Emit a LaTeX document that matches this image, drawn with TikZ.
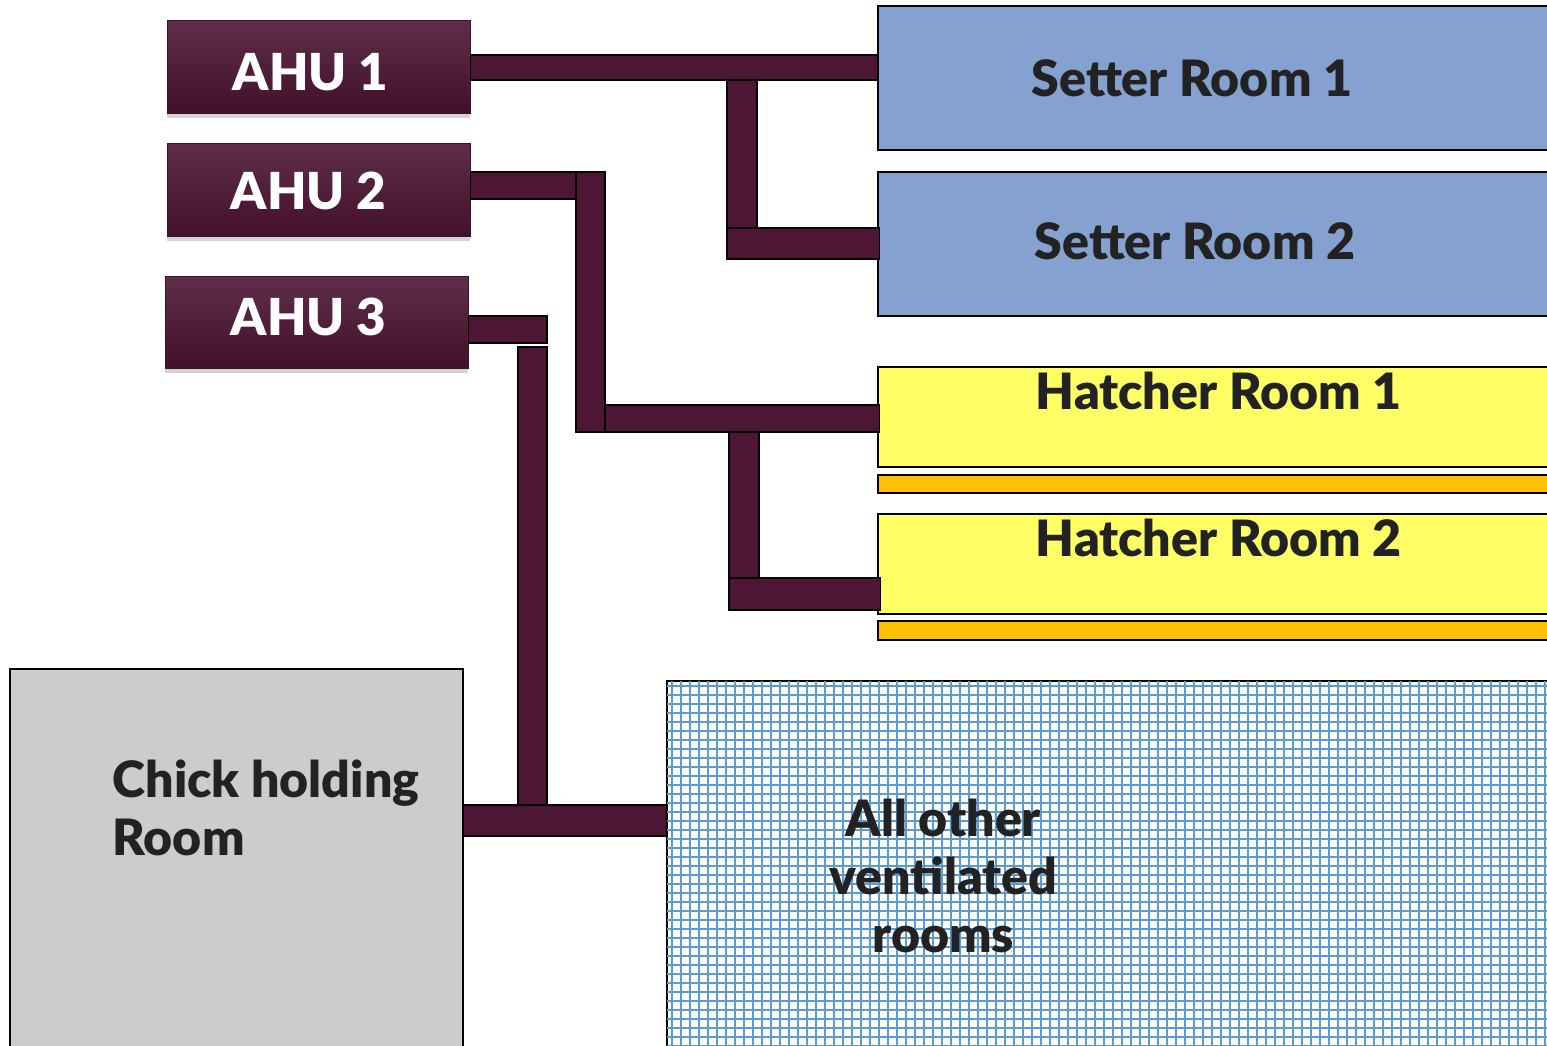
\documentclass[tikz,border=0pt]{standalone}
\usepackage{fontspec}
\setmainfont{Lato}[BoldFont={Lato Black}]
\usetikzlibrary{positioning, fit, shadows}

\definecolor{ahutop}{HTML}{5E2E49}
\definecolor{ahubot}{HTML}{43102A}
\definecolor{ductred}{HTML}{4D1634}
\definecolor{setterblue}{HTML}{85A1CF}
\definecolor{hatchyellow}{HTML}{FFFF66}
\definecolor{trayorange}{HTML}{FFC000}
\definecolor{chickgrey}{HTML}{CCCCCC}
\definecolor{gridblue}{HTML}{5B9BD5}
\definecolor{ink}{HTML}{222222}

\tikzset{
  ahu/.style={rectangle, draw=ahubot, inner sep=0pt, top color=ahutop, bottom color=ahubot,
    drop shadow={shadow xshift=0pt, shadow yshift=-3pt, opacity=0.35}},
  ahutext/.style={inner sep=0pt, text=white, font=\fontsize{29}{34}\selectfont\bfseries},
  room/.style={rectangle, draw=black, line width=0.8pt, inner sep=0pt},
  lbl/.style={inner sep=0pt, text=ink, font=\fontsize{28.5}{33}\selectfont\bfseries},
  duct/.style={fill=ductred, draw=black, line width=0.7pt},
  gridline/.style={draw=gridblue, line width=0.04cm}
}

\begin{document}
\begin{tikzpicture}[x=0.02cm, y=-0.02cm]
    \useasboundingbox (0,0) rectangle (1547,1045);
    \clip (0,0) rectangle (1547,1045);

    \node (ahu1) [ahu, fit={(167,20) (470,113)},
      label={[ahutext, anchor=west, xshift=1.32cm, yshift=-0.12cm]west:AHU 1}] {};
    \node (ahu2) [ahu, fit={(167,143) (470,236)},
      label={[ahutext, anchor=west, xshift=1.28cm, yshift=-0.02cm]west:AHU 2}] {};
    \node (ahu3) [ahu, fit={(165,276) (468,368)},
      label={[ahutext, anchor=west, xshift=1.32cm, yshift=0.1cm]west:AHU 3}] {};

    \node (setter1) [room, fill=setterblue, fit={(878,6) (1560,150)},
      label={[lbl, anchor=west, xshift=3.08cm]west:Setter Room 1}] {};
    \node (setter2) [room, fill=setterblue, fit={(878,172) (1560,316)},
      label={[lbl, anchor=west, xshift=3.14cm, yshift=0.06cm]west:Setter Room 2}] {};

    \node (hatch1) [room, fill=hatchyellow, fit={(878,367) (1560,467)},
      label={[lbl, anchor=north west, xshift=3.16cm, yshift=-0.1cm]north west:Hatcher Room 1}] {};
    \node (tray1) [room, fill=trayorange, fit={(878,475) (1560,493)}] {};
    \node (hatch2) [room, fill=hatchyellow, fit={(878,514) (1560,614)},
      label={[lbl, anchor=north west, xshift=3.16cm, yshift=-0.1cm]north west:Hatcher Room 2}] {};
    \node (tray2) [room, fill=trayorange, fit={(878,621) (1560,640)}] {};

    \node (chick) [room, fill=chickgrey, fit={(10,669) (463,1060)},
      label={[lbl, align=left, anchor=north west, xshift=2.06cm, yshift=-1.82cm]north west:Chick holding\\Room}] {};
    \node (others) [room, fill=white, fit={(667,681) (1560,1060)}] {};
    \begin{scope}
        \clip (others.north west) rectangle (others.south east);
        \foreach \gx in {672,681,...,1560} \draw [gridline] (\gx,681) -- (\gx,1060);
        \foreach \gy in {686,695,...,1060} \draw [gridline] (667,\gy) -- (1560,\gy);
    \end{scope}
    \node (otherstext) [lbl, align=center, anchor=north] at ([xshift=5.54cm, yshift=-2.36cm]others.north west) {All other\\ventilated\\rooms};

    \draw [duct] (ahu1.east |- 0,55) rectangle (setter1.west |- 0,80);
    \draw [duct] (727,80) rectangle (757,228);
    \draw [duct] (727,228) rectangle ([xshift=0.04cm]setter2.west |- 0,259);

    \draw [duct] (ahu2.east |- 0,172) rectangle (576,199);
    \draw [duct] (576,172) rectangle (605,432);
    \draw [duct] (605,405) rectangle ([xshift=0.04cm]hatch1.west |- 0,432);
    \draw [duct] (729,432) rectangle (759,578);
    \draw [duct] (729,578) rectangle ([xshift=0.06cm]hatch2.west |- 0,610);

    \draw [duct] (ahu3.east |- 0,316) rectangle (547,343);
    \draw [duct] (518,347) rectangle (547,805);
    \draw [duct] (chick.east |- 0,805) rectangle (others.west |- 0,836);
\end{tikzpicture}
\end{document}
